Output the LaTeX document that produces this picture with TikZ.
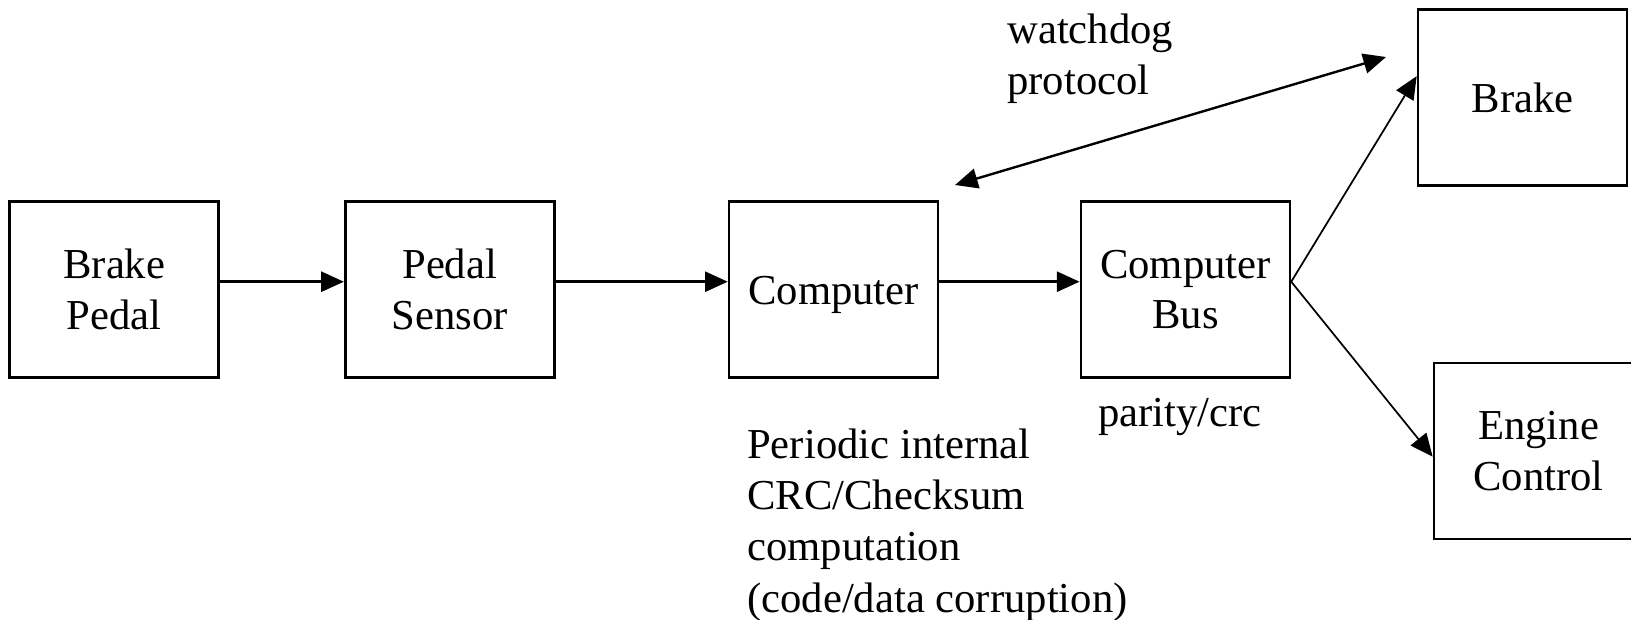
\documentclass[tikz,border=0pt]{standalone}
\usepackage{fontspec}
\setmainfont{Liberation Serif}
\usetikzlibrary{arrows.meta}
\begin{document}
\begin{tikzpicture}[x=0.75pt,y=-0.75pt,
  txt/.style={font=\fontsize{32}{38}\selectfont},
  box/.style={txt, draw, line width=2pt, minimum width=156.75pt,
    minimum height=132pt, align=center, inner sep=0pt},
  oneline/.style={text height=29.5pt, text depth=6.9pt},
  lbl/.style={font=\fontsize{32}{38.5}\selectfont, align=left, inner sep=0pt, anchor=west},
  arr/.style={line width=1.9pt, -{Triangle[length=17pt,width=15pt]}},
  branch/.style={line width=1.3pt, -{Triangle[length=17pt,width=15pt]}},
  both/.style={line width=1.8pt, {Triangle[length=17pt,width=15pt]}-{Triangle[length=17pt,width=15pt]}}
]
\useasboundingbox (0,0) rectangle (1631,619);

% signal chain
\node[box] (pedal)  at (114.3,289.7)  {Brake\\Pedal};
\node[box] (sensor) at (449.7,289.7)  {Pedal\\Sensor};
\node[box, oneline] (comp) at (833.6,289.7) {Computer};
\node[box] (bus)    at (1185.4,289.7) {Computer\\Bus};
\node[box, oneline] (brake) at (1522.5,97.2) {Brake};
\node[box] (engine) at (1538.5,451) {Engine\\Control};

% annotations
\node[lbl] (wdtext) at (1007,58.5) {watchdog\\protocol};
\node[txt, inner sep=0pt] (parity) at (1180,417) {parity/crc};
\node[lbl] (crctext) at (747,525) {Periodic internal\\CRC/Checksum\\computation\\(code/data corruption)};

% connectors
\draw[arr] ([yshift=6pt]pedal.east)  -- ([yshift=6pt]sensor.west);
\draw[arr] ([yshift=6pt]sensor.east) -- ([yshift=6pt]comp.west);
\draw[arr] ([yshift=6pt]comp.east)   -- ([yshift=6pt]bus.west);
\draw[branch] ([yshift=6pt]bus.east) -- ([yshift=15.75pt]brake.west);
\draw[branch] ([yshift=6pt]bus.east) -- ([yshift=-4.25pt]engine.west);

% watchdog link
\coordinate (wdlow)  at (955,185);
\coordinate (wdhigh) at (1386,57);
\draw[both] (wdlow) -- (wdhigh);
\end{tikzpicture}
\end{document}
